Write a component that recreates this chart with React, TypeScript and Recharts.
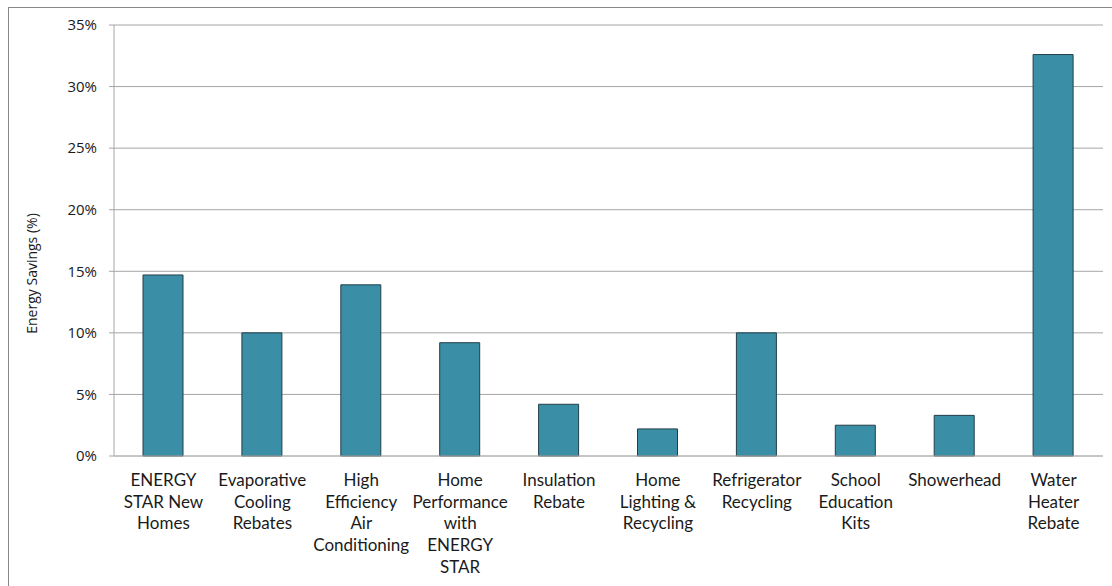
import React from 'react';
import {
  BarChart,
  Bar,
  XAxis,
  YAxis,
  CartesianGrid,
} from 'recharts';

// Program names, one entry per line of the wrapped axis label
const programs = [
  ['ENERGY', 'STAR New', 'Homes'],
  ['Evaporative', 'Cooling', 'Rebates'],
  ['High', 'Efficiency', 'Air', 'Conditioning'],
  ['Home', 'Performance', 'with', 'ENERGY', 'STAR'],
  ['Insulation', 'Rebate'],
  ['Home', 'Lighting &', 'Recycling'],
  ['Refrigerator', 'Recycling'],
  ['School', 'Education', 'Kits'],
  ['Showerhead'],
  ['Water', 'Heater', 'Rebate'],
];

// Energy savings, in percent
const savings = [14.7, 10.0, 13.9, 9.2, 4.2, 2.2, 10.0, 2.5, 3.3, 32.6];

const yTicks = [0, 5, 10, 15, 20, 25, 30, 35];

const data = programs.map((lines, i) => ({
  program: lines.join(' '),
  lines,
  savings: savings[i],
}));

const BAR_FILL = '#3A8FA6';
const BAR_STROKE = '#223E48';
const GRID = '#A6A6A6';
const TEXT = '#1A1A1A';

const ProgramTick = (props: any) => {
  const { x, y, index } = props;
  const lines = programs[index] || [];
  return (
    <text
      x={x}
      y={y}
      textAnchor="middle"
      fill={TEXT}
      fontFamily="Lato, 'Open Sans', sans-serif"
      fontSize={17}
    >
      {lines.map((line, i) => (
        <tspan key={i} x={x} dy={i === 0 ? 30 : 21.7}>
          {line}
        </tspan>
      ))}
    </text>
  );
};

const SavingsLabel = (props: any) => {
  const { viewBox } = props;
  const cx = viewBox.x + 31;
  const cy = viewBox.y + viewBox.height / 2 + 33;
  return (
    <text
      x={cx}
      y={cy}
      transform={`rotate(-90, ${cx}, ${cy})`}
      textAnchor="middle"
      dominantBaseline="central"
      fill={TEXT}
      fontFamily="'Open Sans', sans-serif"
      fontSize={14}
    >
      Energy Savings (%)
    </text>
  );
};

export default function App() {
  return (
    <div
      style={{
        position: 'fixed',
        left: 0,
        top: 0,
        width: 1112,
        height: 586,
        overflow: 'hidden',
        background: '#fff',
      }}
    >
      <div
        style={{
          position: 'absolute',
          left: 8,
          top: 7,
          width: 1200,
          height: 700,
          border: '1px solid #888',
        }}
      />
      <div style={{ position: 'absolute', left: 0, top: 0 }}>
        <BarChart
          width={1112}
          height={586}
          data={data}
          margin={{ top: 25, right: 9, bottom: 0, left: 0 }}
        >
          <CartesianGrid vertical={false} stroke={GRID} yAxisId="pct" xAxisId="cat" />
          <XAxis
            xAxisId="cat"
            dataKey="program"
            height={130}
            interval={0}
            axisLine={{ stroke: '#B8B8B8' }}
            tickLine={false}
            tickSize={0}
            tickMargin={0}
            tick={<ProgramTick />}
          />
          {/* tick marks between categories */}
          <XAxis
            xAxisId="edges"
            type="number"
            domain={[0, programs.length]}
            ticks={programs.map((_, i) => i).concat(programs.length)}
            height={0}
            axisLine={false}
            tick={false}
            tickSize={6}
            tickLine={{ stroke: '#B8B8B8' }}
          />
          <YAxis
            yAxisId="pct"
            width={114}
            domain={[0, 35]}
            ticks={yTicks}
            interval={0}
            tickFormatter={(v) => `${v}%`}
            axisLine={{ stroke: GRID }}
            tickLine={{ stroke: GRID }}
            tickSize={5}
            tickMargin={12}
            tick={{ fill: TEXT, fontSize: 15, fontFamily: "'Open Sans', sans-serif" }}
            label={<SavingsLabel />}
          />
          <Bar
            xAxisId="cat"
            yAxisId="pct"
            dataKey="savings"
            barSize={40}
            fill={BAR_FILL}
            stroke={BAR_STROKE}
            strokeWidth={1}
            isAnimationActive={false}
          />
        </BarChart>
      </div>
    </div>
  );
}
